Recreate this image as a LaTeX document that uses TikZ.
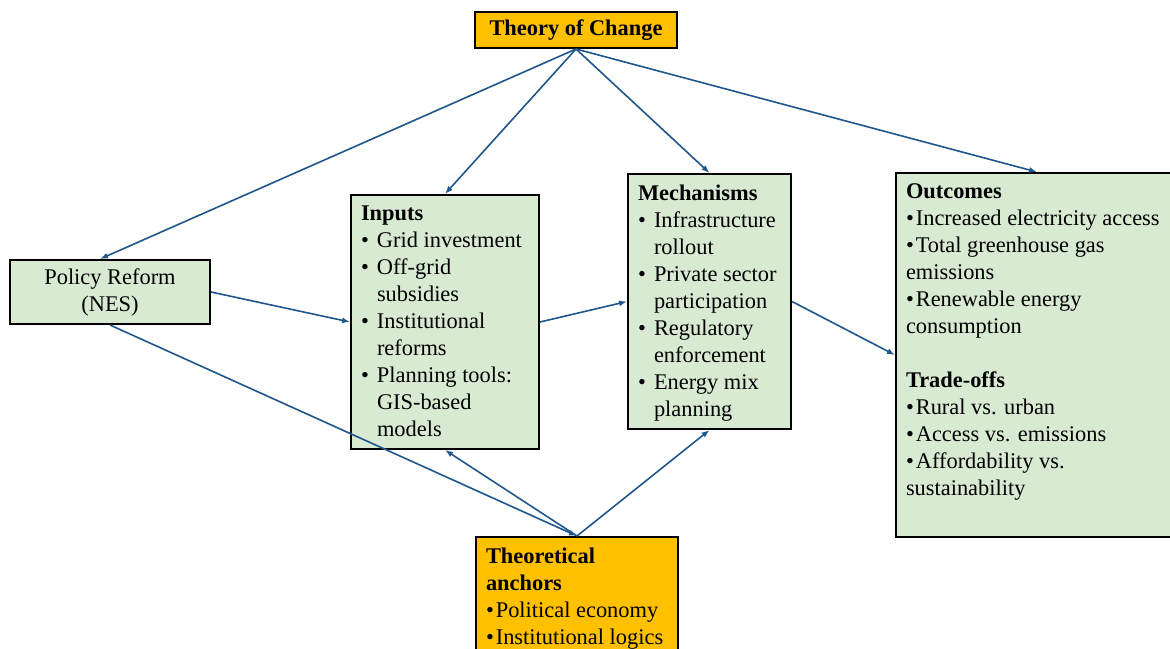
\documentclass[tikz,border=0pt]{standalone}
\usepackage{fontspec}
\setmainfont{Liberation Serif}
\usetikzlibrary{arrows.meta}
\definecolor{boxgreen}{RGB}{217,234,211}
\definecolor{toporange}{RGB}{255,192,0}
\definecolor{arrowblue}{RGB}{31,86,140}
\newcommand{\bitem}[1]{\par\hangindent=16pt\hangafter=1\noindent\makebox[16pt][l]{\textbullet}#1}
\newcommand{\ditem}[1]{\par\noindent\textbullet\hspace{2pt}#1}
\begin{document}
\begin{tikzpicture}[>={Latex[length=8pt,width=6pt]}, x=1pt, y=-1pt,
  every node/.style={font=\fontsize{22.4pt}{27pt}\selectfont},
  box/.style={draw, line width=2pt, fill=boxgreen, anchor=north west, inner xsep=10pt, inner ysep=11pt},
  conn/.style={->, draw=arrowblue, line width=1.6pt}]
\useasboundingbox (0,0) rectangle (1170,648);
\clip (0,0) rectangle (1170,648);
% boxes
\node[box, fill=toporange, anchor=center, inner sep=0, minimum width=202pt, minimum height=36pt] (toc) at (576,30) {\textbf{Theory of Change}};
\node[box, anchor=center, align=center, inner sep=0, minimum width=200pt, minimum height=64pt] (policy) at (110,292) {Policy Reform\\(NES)};
\node[box] (inputs) at (350,194) {\parbox[c][232pt][t]{168pt}{\textbf{Inputs}
  \bitem{Grid investment}\bitem{Off-grid\\subsidies}\bitem{Institutional\\reforms}\bitem{Planning tools:\\GIS-based\\models}}};
\node[box] (mech) at (627,173) {\parbox[c][233pt][t]{143pt}{\textbf{Mechanisms}
  \bitem{Infrastructure\\rollout}\bitem{Private sector\\participation}\bitem{Regulatory\\enforcement}\bitem{Energy mix\\planning}}};
\node[box] (outcomes) at (895,172) {\parbox[c][342pt][t]{262pt}{\textbf{Outcomes}
  \ditem{Increased electricity access}\ditem{Total greenhouse gas\\emissions}\ditem{Renewable energy\\consumption}
  \par\vspace{27pt}\noindent\textbf{Trade-offs}
  \ditem{Rural vs. urban}\ditem{Access vs. emissions}\ditem{Affordability vs.\\sustainability}}};
\node[box, fill=toporange] (anchors) at (475,536) {\parbox[c][130pt][t]{182pt}{\textbf{Theoretical\\anchors}
  \ditem{Political economy}\ditem{Institutional logics}}};
% connectors
\draw[conn] (toc.south) -- ([xshift=-10pt]policy.north);
\draw[conn] (toc.south) -- (inputs.north);
\draw[conn] (toc.south) -- (mech.north);
\draw[conn] (toc.south) -- (outcomes.north);
\draw[conn] (policy.east) -- (inputs.west);
\draw[conn] (inputs.east) -- (mech.west);
\draw[conn] (mech.east) -- (outcomes.west);
\draw[conn] (policy.south) -- (anchors.north);
\draw[conn] (anchors.north) -- (inputs.south);
\draw[conn] (anchors.north) -- (mech.south);
\end{tikzpicture}
\end{document}
